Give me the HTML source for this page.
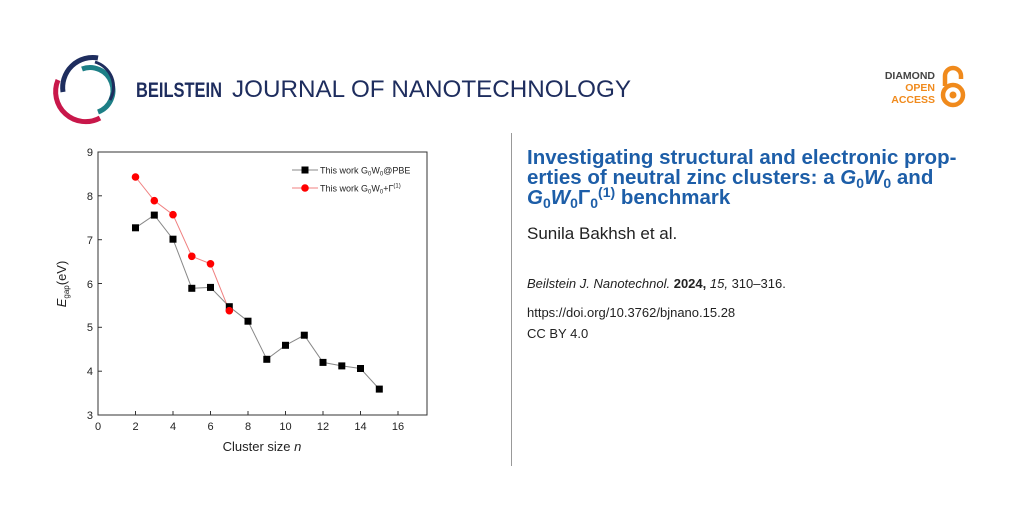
<!DOCTYPE html>
<html><head><style>
body{margin:0;width:1024px;height:512px;background:#fff;position:relative;font-family:"Liberation Sans",sans-serif;overflow:hidden}
.t{position:absolute;white-space:nowrap}
.ti{position:absolute;left:527px;white-space:nowrap;font-size:20.5px;font-weight:bold;color:#1d5ea8;line-height:20px}
.s{font-size:14px;vertical-align:-4px;line-height:0}
.p{font-size:14px;vertical-align:7px;line-height:0}
</style></head><body>
<svg width="1024" height="512" style="position:absolute;left:0;top:0" font-family="Liberation Sans, sans-serif">
<path d="M98,58 A30,30 0 0 0 63,92" stroke="#1e2d5e" stroke-width="5" fill="none"/>
<path d="M58,80 A30,30 0 0 0 100,118" stroke="#c8174a" stroke-width="5" fill="none"/>
<path d="M82,69 A22,22 0 0 1 98,112" stroke="#1d7f86" stroke-width="5" fill="none"/>
<path d="M95,62 A26,26 0 0 1 110,100" stroke="#1e2d5e" stroke-width="3" fill="none"/>
<text x="136" y="97" font-size="21" fill="#1e2d5e" font-weight="bold" textLength="86" lengthAdjust="spacingAndGlyphs">BEILSTEIN</text>
<text x="232" y="97" font-size="24" fill="#1e2d5e" textLength="399" lengthAdjust="spacingAndGlyphs">JOURNAL OF NANOTECHNOLOGY</text>
<text x="935" y="79" font-size="10.5" font-weight="bold" fill="#444" text-anchor="end">DIAMOND</text>
<text x="935" y="91" font-size="10.5" font-weight="bold" fill="#f08a1c" text-anchor="end">OPEN</text>
<text x="935" y="103" font-size="10.5" font-weight="bold" fill="#f08a1c" text-anchor="end">ACCESS</text>
<circle cx="953" cy="95" r="10" stroke="#f08a1c" stroke-width="4.5" fill="none"/>
<circle cx="953" cy="95" r="3.5" fill="#f08a1c"/>
<path d="M945,86 V76 A8,8 0 0 1 961,76 V79" stroke="#f08a1c" stroke-width="4.5" fill="none"/>
<line x1="511.5" y1="133" x2="511.5" y2="466" stroke="#999" stroke-width="1"/>
<rect x="98" y="152" width="329" height="263" fill="none" stroke="#333" stroke-width="1"/>
<g stroke="#333" stroke-width="1">
<line x1="98" y1="152" x2="102" y2="152"/><line x1="98" y1="195.8" x2="102" y2="195.8"/><line x1="98" y1="239.7" x2="102" y2="239.7"/><line x1="98" y1="283.5" x2="102" y2="283.5"/><line x1="98" y1="327.3" x2="102" y2="327.3"/><line x1="98" y1="371.2" x2="102" y2="371.2"/>
<line x1="135.5" y1="415" x2="135.5" y2="411"/><line x1="173" y1="415" x2="173" y2="411"/><line x1="210.5" y1="415" x2="210.5" y2="411"/><line x1="248" y1="415" x2="248" y2="411"/><line x1="285.5" y1="415" x2="285.5" y2="411"/><line x1="323" y1="415" x2="323" y2="411"/><line x1="360.5" y1="415" x2="360.5" y2="411"/><line x1="398" y1="415" x2="398" y2="411"/>
</g>
<g font-size="11" fill="#222" text-anchor="end">
<text x="93" y="156">9</text><text x="93" y="200">8</text><text x="93" y="244">7</text><text x="93" y="288">6</text><text x="93" y="331">5</text><text x="93" y="375">4</text><text x="93" y="419">3</text>
</g>
<g font-size="11" fill="#222" text-anchor="middle">
<text x="98" y="430">0</text><text x="135.5" y="430">2</text><text x="173" y="430">4</text><text x="210.5" y="430">6</text><text x="248" y="430">8</text><text x="285.5" y="430">10</text><text x="323" y="430">12</text><text x="360.5" y="430">14</text><text x="398" y="430">16</text>
</g>
<text x="262" y="451" font-size="13" fill="#222" text-anchor="middle">Cluster size <tspan font-style="italic">n</tspan></text>
<text transform="translate(66,284) rotate(-90)" font-size="13" fill="#222" text-anchor="middle"><tspan font-style="italic">E</tspan><tspan font-size="8" dy="3">gap</tspan><tspan dy="-3">(eV)</tspan></text>
<polyline fill="none" stroke="#888" stroke-width="1" points="135.5,227.8 154.3,215.1 173,239.2 191.8,288.3 210.5,287.4 229.3,306.7 248,321.2 266.8,359.3 285.5,345.3 304.3,335.2 323,362.4 341.8,365.9 360.5,368.5 379.3,389.1"/>
<polyline fill="none" stroke="#f08080" stroke-width="1" points="135.5,177 154.3,200.7 173,214.7 191.8,256.3 210.5,263.8 229.3,310.7"/>
<g fill="#000">
<rect x="132" y="224.3" width="7" height="7"/><rect x="150.8" y="211.6" width="7" height="7"/><rect x="169.5" y="235.7" width="7" height="7"/><rect x="188.3" y="284.8" width="7" height="7"/><rect x="207" y="283.9" width="7" height="7"/><rect x="225.8" y="303.2" width="7" height="7"/><rect x="244.5" y="317.7" width="7" height="7"/><rect x="263.3" y="355.8" width="7" height="7"/><rect x="282" y="341.8" width="7" height="7"/><rect x="300.8" y="331.7" width="7" height="7"/><rect x="319.5" y="358.9" width="7" height="7"/><rect x="338.3" y="362.4" width="7" height="7"/><rect x="357" y="365" width="7" height="7"/><rect x="375.8" y="385.6" width="7" height="7"/>
</g>
<g fill="#f00">
<circle cx="135.5" cy="177" r="3.8"/><circle cx="154.3" cy="200.7" r="3.8"/><circle cx="173" cy="214.7" r="3.8"/><circle cx="191.8" cy="256.3" r="3.8"/><circle cx="210.5" cy="263.8" r="3.8"/><circle cx="229.3" cy="310.7" r="3.8"/>
</g>
<line x1="292" y1="170" x2="318" y2="170" stroke="#888"/><rect x="301.5" y="166.5" width="7" height="7" fill="#000"/>
<text x="320" y="173.5" font-size="9" fill="#222">This work G<tspan font-size="6" dy="2">0</tspan><tspan dy="-2">W</tspan><tspan font-size="6" dy="2">0</tspan><tspan dy="-2">@PBE</tspan></text>
<line x1="292" y1="188" x2="318" y2="188" stroke="#f08080"/><circle cx="305" cy="188" r="3.8" fill="#f00"/>
<text x="320" y="191.5" font-size="9" fill="#222">This work G<tspan font-size="6" dy="2">0</tspan><tspan dy="-2">W</tspan><tspan font-size="6" dy="2">0</tspan><tspan dy="-2">+Γ</tspan><tspan font-size="6" dy="-4">(1)</tspan></text>
</svg>
<div class="ti" style="top:148px">Investigating structural and electronic prop-</div>
<div class="ti" style="top:168px">erties of neutral zinc clusters: a <i>G</i><span class="s">0</span><i>W</i><span class="s">0</span> and</div>
<div class="ti" style="top:188px"><i>G</i><span class="s">0</span><i>W</i><span class="s">0</span>Γ<span class="s">0</span><span class="p">(1)</span> benchmark</div>
<div class="t" style="left:527px;top:224px;font-size:17px;color:#222">Sunila Bakhsh et al.</div>
<div class="t" style="left:527px;top:276px;font-size:13px;color:#222"><i>Beilstein J. Nanotechnol.</i> <b>2024,</b> <i>15,</i> 310–316.</div>
<div class="t" style="left:527px;top:305px;font-size:13px;color:#222">https://doi.org/10.3762/bjnano.15.28</div>
<div class="t" style="left:527px;top:326px;font-size:13px;color:#222">CC BY 4.0</div>
</body></html>
